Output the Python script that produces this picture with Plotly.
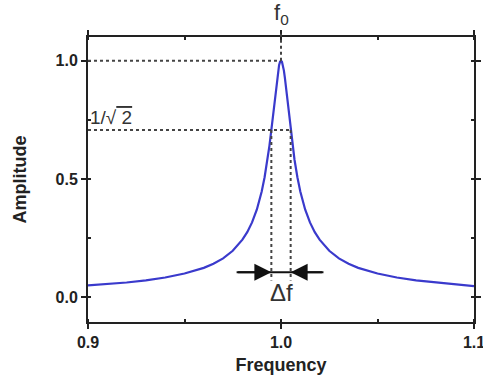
import plotly.graph_objects as go

# Curve values (frequency, amplitude)
freq = [0.900, 0.910, 0.920, 0.930, 0.940, 0.950, 0.960, 0.965, 0.970, 0.975,
        0.980, 0.9825, 0.985, 0.9875, 0.990, 0.9915, 0.993, 0.994, 0.995, 0.9955,
        0.996, 0.9965, 0.997, 0.9975, 0.998, 0.9985, 0.999, 0.9995, 1.000,
        1.0005, 1.001, 1.0015, 1.002, 1.0025, 1.003, 1.0035, 1.004, 1.0045, 1.005,
        1.006, 1.007, 1.0085, 1.010, 1.0125, 1.015, 1.0175, 1.020, 1.025, 1.030,
        1.035, 1.040, 1.050, 1.060, 1.070, 1.080, 1.090, 1.100]
amp = [0.050, 0.055, 0.062, 0.071, 0.083, 0.100, 0.124, 0.141, 0.164, 0.196,
       0.243, 0.275, 0.316, 0.371, 0.447, 0.507, 0.581, 0.640, 0.707, 0.743,
       0.781, 0.819, 0.857, 0.894, 0.928, 0.958, 0.981, 0.995, 1.000,
       0.995, 0.981, 0.958, 0.928, 0.894, 0.857, 0.819, 0.781, 0.743, 0.707,
       0.640, 0.581, 0.507, 0.447, 0.371, 0.316, 0.275, 0.243, 0.196, 0.164,
       0.141, 0.124, 0.100, 0.083, 0.071, 0.062, 0.055, 0.047]

x_ticks = [0.9, 1.0, 1.1]
x_tick_labels = ["0.9", "1.0", "1.1"]
y_ticks = [0.0, 0.5, 1.0]
y_tick_labels = ["0.0", "0.5", "1.0"]

f0 = 1.0
peak = 1.0
half_level = 0.707
f_low = 0.995
f_high = 1.005
arrow_y = 0.105
arrow_left_tail = 0.977
arrow_right_tail = 1.022
dotted_bottom = 0.07

x_range = [0.9, 1.1]
y_range = [-0.105, 1.1]

fig = go.Figure()
fig.add_trace(go.Scatter(x=freq, y=amp, mode="lines",
                         line=dict(color="#3a3acc", width=2.2),
                         showlegend=False, hoverinfo="skip"))

dot = dict(color="#444444", width=2, dash="dot")
# horizontal dotted guides
fig.add_shape(type="line", x0=x_range[0], x1=f0, y0=peak, y1=peak, line=dot)
fig.add_shape(type="line", x0=x_range[0], x1=f_high, y0=half_level, y1=half_level, line=dot)
# vertical dotted guides at half-power points
fig.add_shape(type="line", x0=f_low, x1=f_low, y0=half_level, y1=dotted_bottom, line=dot)
fig.add_shape(type="line", x0=f_high, x1=f_high, y0=half_level, y1=dotted_bottom, line=dot)
# vertical dotted at f0 extending above plot
peak_paper = (peak - y_range[0]) / (y_range[1] - y_range[0])
fig.add_shape(type="line", xref="x", yref="paper", x0=f0, x1=f0, y0=peak_paper, y1=1.015, line=dot)

# arrow baseline
fig.add_shape(type="line", x0=arrow_left_tail, x1=arrow_right_tail, y0=arrow_y, y1=arrow_y,
              line=dict(color="#111111", width=2))
for head, tail in [(f_low, arrow_left_tail), (f_high, arrow_right_tail)]:
    fig.add_annotation(x=head, y=arrow_y, ax=tail, ay=arrow_y, axref="x", ayref="y",
                       xref="x", yref="y", text="", showarrow=True,
                       arrowhead=2, arrowsize=1.7, arrowwidth=2, arrowcolor="#111111")

fig.add_annotation(x=f0, y=arrow_y, yshift=-20, text="Δf", showarrow=False,
                   font=dict(family="Arial, Liberation Sans", size=24, color="#333333"))
fig.add_annotation(x=f0, xref="x", y=1.0, yref="paper", yshift=7, yanchor="bottom",
                   text="f<sub>0</sub>", showarrow=False,
                   font=dict(family="Arial, Liberation Sans", size=22, color="#333333"))
fig.add_annotation(x=x_range[0], y=half_level, xanchor="left", yanchor="bottom", xshift=0, yshift=0,
                   text="1/√<span style='text-decoration:overline'> 2</span>", showarrow=False,
                   font=dict(family="Arial, Liberation Sans", size=19, color="#333333"))

axis_common = dict(showline=True, linecolor="#222222", linewidth=2, mirror="ticks",
                   ticks="outside", ticklen=5, tickwidth=1.5, tickcolor="#222222",
                   showgrid=False, zeroline=False, automargin=False,
                   ticklabeloverflow="allow",
                   tickfont=dict(family="Arial, Liberation Sans", size=16, color="#222222"))

fig.update_xaxes(range=x_range, tickvals=x_ticks, ticktext=["<b>%s</b>" % t for t in x_tick_labels],
                 minor=dict(dtick=0.05, ticks="inside", ticklen=3, tickcolor="#222222"),
                 title=dict(text="<b>Frequency</b>", standoff=8,
                            font=dict(family="Arial, Liberation Sans", size=18, color="#222222")),
                 **axis_common)
fig.update_yaxes(range=y_range, tickvals=y_ticks, ticktext=["<b>%s</b>" % t for t in y_tick_labels],
                 minor=dict(dtick=0.25, ticks="inside", ticklen=3, tickcolor="#222222"),
                 title=dict(text="<b>Amplitude</b>", standoff=24,
                            font=dict(family="Arial, Liberation Sans", size=18, color="#222222")),
                 **axis_common)

fig.update_layout(width=483, height=385, margin=dict(l=88, r=9, t=37, b=63),
                  plot_bgcolor="white", paper_bgcolor="white")

# remove the page's default body margin so the figure fills the window
fig.write_html("out.html", config={"displayModeBar": False},
               post_script="document.body.style.margin='0';document.body.style.overflow='hidden';")
